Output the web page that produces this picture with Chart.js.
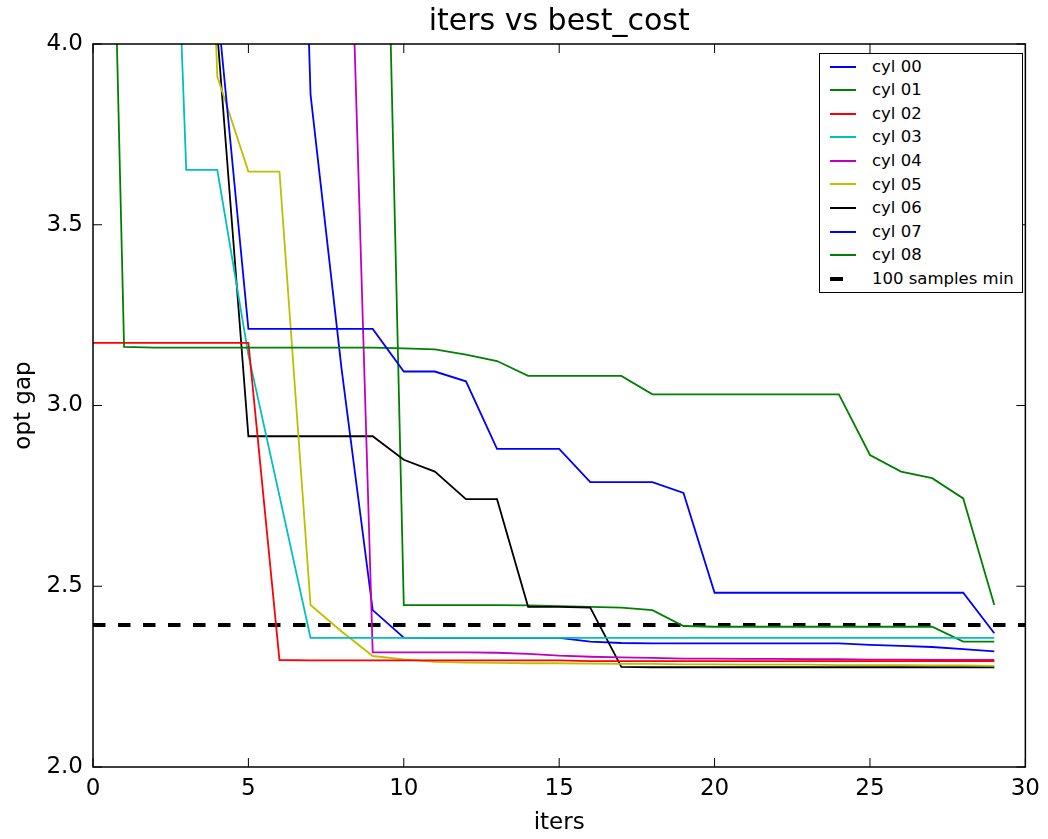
<!DOCTYPE html>
<html>
<head>
<meta charset="utf-8">
<title>iters vs best_cost</title>
<script src="https://cdn.jsdelivr.net/npm/chart.js@4"></script>
<style>
  html, body { margin:0; padding:0; background:#fff; }
  #wrap { position:relative; width:1048px; height:839px; }
  #legend {
    position:absolute; left:819px; top:53px; width:204px; height:240px;
    box-sizing:border-box; border:1.5px solid #000; background:#fff;
    font-family:"DejaVu Sans"; font-size:16.5px; color:#000;
  }
  #legend .row { height:23.6px; line-height:23.6px; white-space:nowrap; }
  #legend .swatch { display:inline-block; vertical-align:middle; margin-left:10px; width:26px; height:2px; }
  #legend .label { margin-left:16px; vertical-align:middle; }
</style>
</head>
<body>
<div id="wrap">
  <canvas id="chart" width="1048" height="839"></canvas>
  <div id="legend"></div>
</div>
<script>
// iterations on x axis
const iters = [0,1,2,3,4,5,6,7,8,9,10,11,12,13,14,15,16,17,18,19,20,21,22,23,24,25,26,27,28,29];

// opt gap per cylinder (points above 4.0 are off the plot, rough guesses)
const cyl00 = [7.2,6.6,5.9,5.0,4.107,3.212,3.212,3.212,3.212,3.212,3.094,3.094,3.067,2.880,2.880,2.880,2.788,2.788,2.788,2.758,2.482,2.482,2.482,2.482,2.482,2.482,2.482,2.482,2.482,2.370];
const cyl01 = [6.80,3.162,3.160,3.160,3.160,3.160,3.160,3.160,3.160,3.160,3.158,3.155,3.141,3.123,3.082,3.082,3.082,3.082,3.031,3.031,3.031,3.031,3.031,3.031,3.031,2.863,2.817,2.799,2.743,2.448];
const cyl02 = [3.173,3.173,3.173,3.173,3.173,3.173,2.296,2.295,2.295,2.295,2.295,2.295,2.295,2.295,2.295,2.295,2.293,2.293,2.293,2.293,2.293,2.293,2.293,2.293,2.293,2.293,2.293,2.293,2.293,2.293];
const cyl03 = [8.2,7.1,5.98,3.652,3.652,3.140,2.750,2.357,2.357,2.357,2.357,2.357,2.357,2.357,2.357,2.357,2.357,2.357,2.357,2.357,2.357,2.357,2.357,2.357,2.357,2.357,2.357,2.357,2.357,2.357];
const cyl04 = [8.9,8.6,8.1,7.5,7.0,6.4,5.9,5.6,5.20,2.317,2.317,2.317,2.317,2.316,2.313,2.308,2.305,2.303,2.302,2.300,2.300,2.299,2.299,2.298,2.298,2.297,2.297,2.296,2.296,2.296];
const cyl05 = [8.0,7.2,6.6,6.20,3.910,3.647,3.647,2.448,2.375,2.307,2.298,2.291,2.289,2.288,2.287,2.287,2.286,2.285,2.285,2.284,2.284,2.283,2.283,2.283,2.282,2.282,2.282,2.281,2.281,2.280];
const cyl06 = [8.5,7.8,7.0,6.3,4.030,2.915,2.915,2.915,2.915,2.915,2.850,2.817,2.741,2.741,2.443,2.443,2.441,2.277,2.276,2.276,2.276,2.276,2.276,2.276,2.276,2.276,2.276,2.276,2.276,2.276];
const cyl07 = [8.8,8.4,8.0,7.6,7.2,6.9,6.66,3.860,3.100,2.434,2.358,2.357,2.357,2.357,2.357,2.357,2.347,2.343,2.342,2.342,2.342,2.342,2.342,2.342,2.342,2.338,2.335,2.332,2.326,2.320];
const cyl08 = [9.2,8.9,8.6,8.2,7.8,7.4,7.0,6.6,6.4,6.15,2.448,2.448,2.448,2.448,2.447,2.445,2.443,2.441,2.434,2.390,2.388,2.388,2.388,2.388,2.388,2.388,2.388,2.388,2.347,2.347];

// 100 samples min reference
const minGap = 2.393;
const minGapX = [0, 30];

const seriesNames = ["cyl 00","cyl 01","cyl 02","cyl 03","cyl 04","cyl 05","cyl 06","cyl 07","cyl 08"];
const seriesData = [cyl00,cyl01,cyl02,cyl03,cyl04,cyl05,cyl06,cyl07,cyl08];
const colors = ["#0000ff","#008000","#ff0000","#00bfbf","#bf00bf","#bfbf00","#000000","#0000ff","#008000"];

const yTicks = [2.0,2.5,3.0,3.5,4.0];

Chart.defaults.font.family = "DejaVu Sans";
Chart.defaults.color = "#000";

const datasets = seriesNames.map((name,i)=>({
  label: name,
  data: iters.map((it,j)=>({x:it, y:seriesData[i][j]})),
  borderColor: colors[i],
  borderWidth: 1.8,
  pointRadius: 0,
  tension: 0,
  fill: false
}));
datasets.push({
  label: "100 samples min",
  data: minGapX.map(x=>({x:x, y:minGap})),
  borderColor: "#000",
  borderWidth: 4,
  borderDash: [12.5,12.5],
  pointRadius: 0,
  fill: false
});

// box around plot + inward ticks on all 4 sides
const frame = {
  id: "frame",
  afterDatasetsDraw(chart){
    const {ctx, chartArea:a, scales:{x, y}} = chart;
    ctx.save();
    ctx.strokeStyle = "#000";
    ctx.lineWidth = 1.5;
    ctx.strokeRect(a.left, a.top, a.right-a.left, a.bottom-a.top);
    ctx.lineWidth = 1;
    ctx.beginPath();
    x.ticks.forEach(t=>{
      const px = x.getPixelForValue(t.value);
      ctx.moveTo(px, a.bottom); ctx.lineTo(px, a.bottom-9);
      ctx.moveTo(px, a.top); ctx.lineTo(px, a.top+9);
    });
    y.ticks.forEach(t=>{
      const py = y.getPixelForValue(t.value);
      ctx.moveTo(a.left, py); ctx.lineTo(a.left+9, py);
      ctx.moveTo(a.right, py); ctx.lineTo(a.right-9, py);
    });
    ctx.stroke();
    ctx.restore();
  }
};

const chart = new Chart(document.getElementById("chart"), {
  type: "line",
  data: { datasets: datasets },
  options: {
    responsive: false,
    animation: false,
    layout: { padding: { left:0, right:18, top:0, bottom:0 } },
    plugins: {
      legend: { display: false },
      tooltip: { enabled: false },
      title: {
        display: true,
        text: "iters vs best_cost",
        fullSize: false,
        font: { size: 30, weight: "normal", lineHeight: 1.15 },
        padding: { top: 5, bottom: 4.5 }
      }
    },
    scales: {
      x: {
        type: "linear",
        min: 0, max: 30,
        ticks: { stepSize: 5, font: { size: 23 }, padding: 8, maxRotation: 0 },
        grid: { display: false, drawTicks: false },
        border: { display: false },
        title: { display: true, text: "iters", font: { size: 23 }, padding: { top: 0, bottom: 2 } },
        afterFit: s => { s.height = 72; }
      },
      y: {
        type: "linear",
        min: 2, max: 4,
        afterBuildTicks: s => { s.ticks = yTicks.map(v=>({value:v})); },
        ticks: { font: { size: 23 }, padding: 10, callback: v => Number(v).toFixed(1) },
        grid: { display: false, drawTicks: false },
        border: { display: false },
        title: { display: true, text: "opt gap", font: { size: 23 }, padding: { top: 10, bottom: 0 } },
        afterFit: s => { s.width = 93; }
      }
    }
  },
  plugins: [frame]
});

// legend drawn as html box, built from the datasets
const legend = document.getElementById("legend");
chart.data.datasets.forEach(ds=>{
  const row = document.createElement("div");
  row.className = "row";
  const sw = document.createElement("span");
  sw.className = "swatch";
  sw.style.background = ds.borderColor;
  if (ds.borderDash) { sw.style.width = "13px"; sw.style.height = "4px"; sw.style.marginRight = "13px"; }
  const lb = document.createElement("span");
  lb.className = "label";
  lb.textContent = ds.label;
  row.appendChild(sw);
  row.appendChild(lb);
  legend.appendChild(row);
});
</script>
</body>
</html>
